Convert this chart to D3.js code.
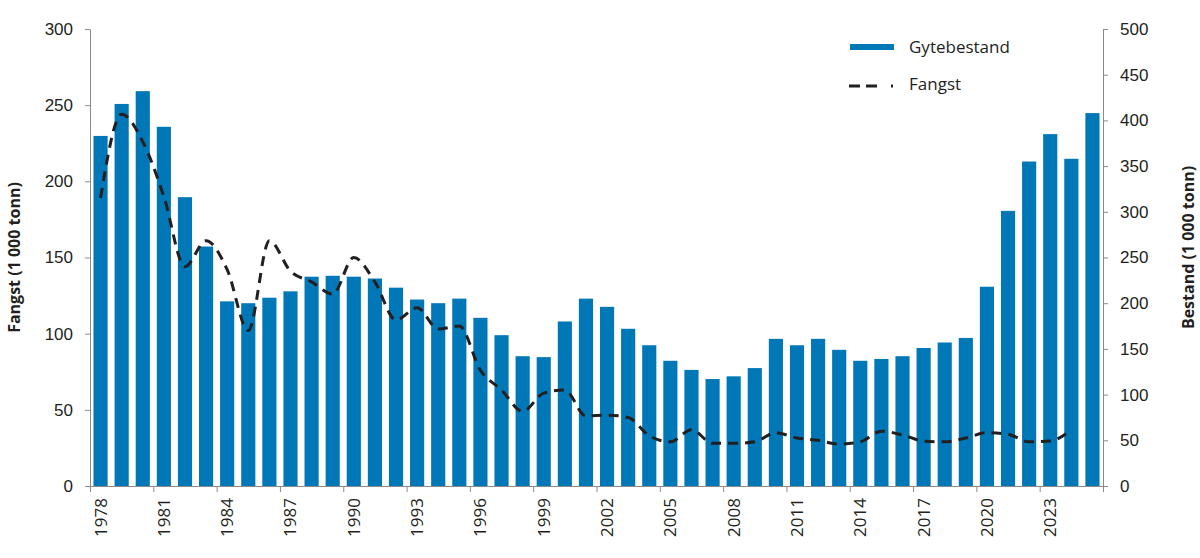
<!DOCTYPE html>
<html><head><meta charset="utf-8">
<script src="https://cdn.jsdelivr.net/npm/d3@7"></script>
<style>body{margin:0;background:#fff;} svg{display:block;font-family:"Open Sans","Noto Sans",sans-serif;}</style>
</head><body><svg id="c" width="1200" height="558"></svg>
<script>
const years = d3.range(1978, 2026);
const gytebestand = [383,418,432,393,316,262,202,200,206,213,229,230,229,227,217,204,200,205,184,165,142,141,180,205,196,172,154,137,127,117,120,129,161,154,161,149,137,139,142,151,157,162,218,301,355,385,358,408];
const fangstYears = d3.range(1978, 2025);
const fangst = [189,244,226,190,144,161,142,102,161,141,134,126,150,134,109,117,103,105,76,63,49,61,63,46,46.5,45,33,29,37,28,28,29,35,31.5,30,27.5,29,36,33.5,29.5,29,31.5,35,34,29,29.5,37];
const leftTicks = [0,50,100,150,200,250,300];
const rightTicks = [0,50,100,150,200,250,300,350,400,450,500];
const labelYears = [1978,1981,1984,1987,1990,1993,1996,1999,2002,2005,2008,2011,2014,2017,2020,2023];

const svg = d3.select("#c");
const L = 90, R = 1103, T = 29, B = 486;
const x = d3.scaleBand().domain(years).range([L, R]).paddingInner(0.33).paddingOuter(0.165);
const yL = d3.scaleLinear().domain([0, 300]).range([B, T]);
const yR = d3.scaleLinear().domain([0, 500]).range([B, T]);
const axisCol = "#8a8a8a", textCol = "#231f20", blue = "#0077b6";

// bars
svg.append("g").selectAll("rect").data(years).join("rect")
  .attr("x", d => x(d)).attr("width", x.bandwidth())
  .attr("y", (d, i) => yR(gytebestand[i])).attr("height", (d, i) => B - yR(gytebestand[i]))
  .attr("fill", blue);

// line
const line = d3.line().x((d, i) => x(fangstYears[i]) + x.bandwidth() / 2).y(d => yL(d)).curve(d3.curveMonotoneX);
svg.append("path").datum(fangst).attr("d", line).attr("fill", "none")
  .attr("stroke", "#231f20").attr("stroke-width", 3).attr("stroke-dasharray", "10,7");

// axes
function styleAxis(g) {
  g.selectAll(".domain").attr("stroke", axisCol);
  g.selectAll(".tick line").attr("stroke", axisCol);
  g.selectAll("text").attr("fill", textCol).style("font-size", "17px");
}
const gl = svg.append("g").attr("transform", `translate(${L},0)`)
  .call(d3.axisLeft(yL).tickValues(leftTicks).tickSize(5).tickSizeOuter(0).tickPadding(12));
styleAxis(gl);
const gr = svg.append("g").attr("transform", `translate(${R},0)`)
  .call(d3.axisRight(yR).tickValues(rightTicks).tickSize(5).tickSizeOuter(0).tickPadding(12));
styleAxis(gr);

// x axis: ticks at band starts every 3 years
const step = x.step();
const xTickScale = d3.scaleLinear().domain([1978, 2026]).range([L, R]);
const gx = svg.append("g").attr("transform", `translate(0,${B})`)
  .call(d3.axisBottom(xTickScale).tickValues(d3.range(1978, 2027, 3)).tickSize(6).tickSizeOuter(0).tickFormat(""));
styleAxis(gx);
svg.append("g").selectAll("text").data(labelYears).join("text")
  .attr("transform", d => `translate(${x(d) + x.bandwidth() / 2 + 6},${B + 12}) rotate(-90)`)
  .attr("text-anchor", "end").attr("fill", textCol).style("font-size", "17px").text(d => d);

// axis titles
svg.append("text").attr("transform", `translate(20,${(T + B) / 2}) rotate(-90)`)
  .attr("text-anchor", "middle").attr("fill", textCol).style("font-size", "16px").style("font-weight", "bold")
  .text("Fangst (1 000 tonn)");
svg.append("text").attr("transform", `translate(1194,${(T + B) / 2 - 10}) rotate(-90)`)
  .attr("text-anchor", "middle").attr("fill", textCol).style("font-size", "16px").style("font-weight", "bold")
  .text("Bestand (1 000 tonn)");

// legend
const lg = svg.append("g");
lg.append("line").attr("x1", 850).attr("x2", 894).attr("y1", 47).attr("y2", 47).attr("stroke", blue).attr("stroke-width", 6);
lg.append("text").attr("x", 909).attr("y", 53).attr("fill", textCol).style("font-size", "17px").text("Gytebestand");
lg.append("line").attr("x1", 849).attr("x2", 895).attr("y1", 86).attr("y2", 86).attr("stroke", "#231f20").attr("stroke-width", 3).attr("stroke-dasharray", "11,6,11,14,2,10");
lg.append("text").attr("x", 909).attr("y", 90).attr("fill", textCol).style("font-size", "17px").text("Fangst");
</script></body></html>
